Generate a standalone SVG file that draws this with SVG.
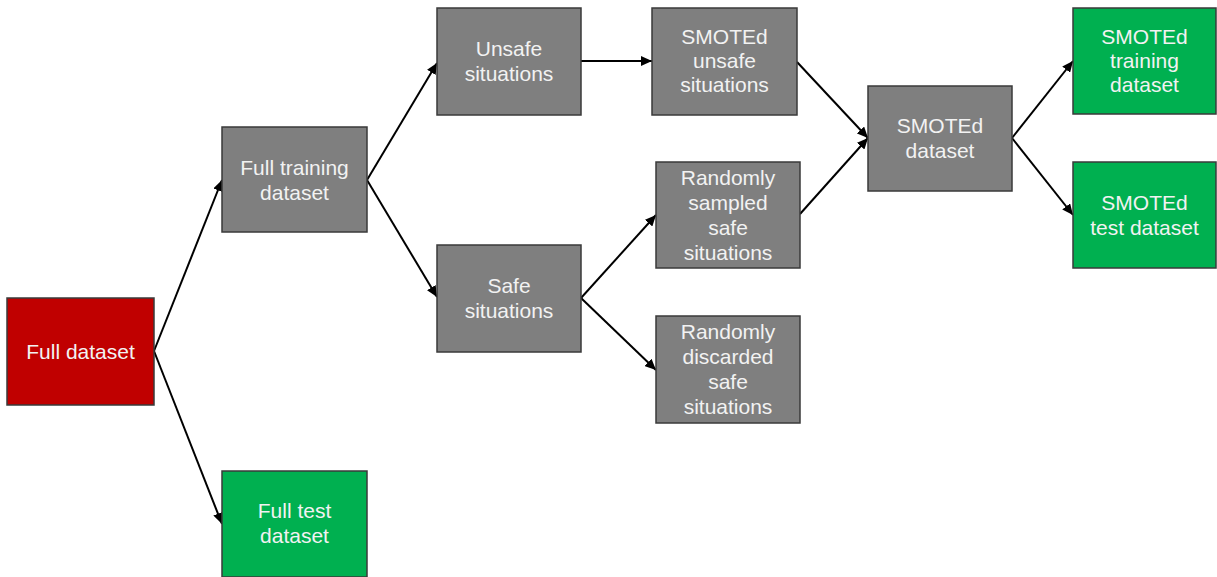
<svg xmlns="http://www.w3.org/2000/svg" width="1217" height="577" viewBox="0 0 1217 577">
<defs>
<marker id="arr" markerUnits="userSpaceOnUse" markerWidth="12" markerHeight="10" refX="11" refY="5" orient="auto">
<path d="M0,0 L11,5 L0,10 Z" fill="#000"/>
</marker>
<style>
.box{stroke:#3a3a3a;stroke-width:1.5}
.red{fill:#C00000}
.gray{fill:#7F7F7F}
.green{fill:#00B050}
.t{font-family:"Liberation Sans",Arial,sans-serif;font-size:21px;fill:#F2F2F2;text-anchor:middle}
.c{stroke:#000;stroke-width:2;fill:none;marker-end:url(#arr)}
</style>
</defs>
<rect width="1217" height="577" fill="#fff"/>
<g id="connectors">
<line class="c" x1="154" y1="351" x2="222" y2="180"/>
<line class="c" x1="154" y1="351" x2="222" y2="524"/>
<line class="c" x1="367" y1="180" x2="437" y2="63"/>
<line class="c" x1="367" y1="180" x2="437" y2="297"/>
<line class="c" x1="581" y1="61" x2="652" y2="61"/>
<line class="c" x1="581" y1="298" x2="656" y2="215"/>
<line class="c" x1="581" y1="298" x2="656" y2="370"/>
<line class="c" x1="797" y1="62" x2="868" y2="138"/>
<line class="c" x1="800" y1="214" x2="868" y2="138"/>
<line class="c" x1="1012" y1="138" x2="1073" y2="61"/>
<line class="c" x1="1012" y1="138" x2="1073" y2="215"/>
</g>
<g id="full-dataset">
<rect class="box red" x="7" y="298" width="147" height="107"/>
<text class="t" x="80.5" y="359">Full dataset</text>
</g>
<g id="full-training">
<rect class="box gray" x="222" y="127" width="145" height="105"/>
<text class="t" x="294.5" y="175">Full training</text>
<text class="t" x="294.5" y="200">dataset</text>
</g>
<g id="full-test">
<rect class="box green" x="222" y="471" width="145" height="106"/>
<text class="t" x="294.5" y="518">Full test</text>
<text class="t" x="294.5" y="543">dataset</text>
</g>
<g id="unsafe">
<rect class="box gray" x="437" y="8" width="144" height="107"/>
<text class="t" x="509" y="56">Unsafe</text>
<text class="t" x="509" y="81">situations</text>
</g>
<g id="safe">
<rect class="box gray" x="437" y="245" width="144" height="107"/>
<text class="t" x="509" y="293">Safe</text>
<text class="t" x="509" y="318">situations</text>
</g>
<g id="smoted-unsafe">
<rect class="box gray" x="652" y="8" width="145" height="107"/>
<text class="t" x="724.5" y="44">SMOTEd</text>
<text class="t" x="724.5" y="68">unsafe</text>
<text class="t" x="724.5" y="92">situations</text>
</g>
<g id="sampled-safe">
<rect class="box gray" x="656" y="162" width="144" height="106"/>
<text class="t" x="728" y="185">Randomly</text>
<text class="t" x="728" y="210">sampled</text>
<text class="t" x="728" y="235">safe</text>
<text class="t" x="728" y="260">situations</text>
</g>
<g id="discarded-safe">
<rect class="box gray" x="656" y="316" width="144" height="107"/>
<text class="t" x="728" y="339">Randomly</text>
<text class="t" x="728" y="364">discarded</text>
<text class="t" x="728" y="389">safe</text>
<text class="t" x="728" y="414">situations</text>
</g>
<g id="smoted-dataset">
<rect class="box gray" x="868" y="86" width="144" height="105"/>
<text class="t" x="940" y="133">SMOTEd</text>
<text class="t" x="940" y="158">dataset</text>
</g>
<g id="smoted-training">
<rect class="box green" x="1073" y="8" width="143" height="106"/>
<text class="t" x="1144.5" y="44">SMOTEd</text>
<text class="t" x="1144.5" y="68">training</text>
<text class="t" x="1144.5" y="92">dataset</text>
</g>
<g id="smoted-test">
<rect class="box green" x="1073" y="162" width="143" height="106"/>
<text class="t" x="1144.5" y="210">SMOTEd</text>
<text class="t" x="1144.5" y="235">test dataset</text>
</g>
</svg>
